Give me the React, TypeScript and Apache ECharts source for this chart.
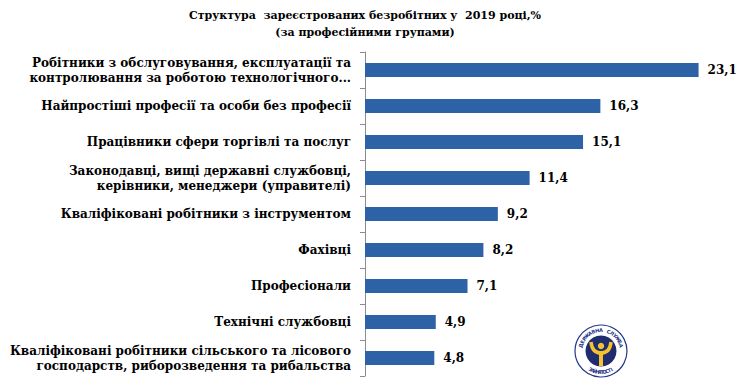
import React, { useEffect, useRef } from "react";
import * as echarts from "echarts";

const categories: string[] = [
  "Робітники з обслуговування, експлуатації та\nконтролювання за роботою технологічного...",
  "Найпростіші професії та особи без професії",
  "Працівники сфери торгівлі та послуг",
  "Законодавці, вищі державні службовці,\nкерівники, менеджери (управителі)",
  "Кваліфіковані робітники з інструментом",
  "Фахівці",
  "Професіонали",
  "Технічні службовці",
  "Кваліфіковані робітники сільського та лісового\nгосподарств, риборозведення та рибальства",
];

const values: number[] = [23.1, 16.3, 15.1, 11.4, 9.2, 8.2, 7.1, 4.9, 4.8];

const titleText = "Структура  зареєстрованих безробітних у  2019 році,%";
const subtitleText = "(за професійними групами)";
const logoTop = "ДЕРЖАВНА СЛУЖБА";
const logoBottom = "ЗАЙНЯТОСТІ";

const FONT = "DejaVu Serif";

function arcLetters(text: string, cx: number, cy: number, r: number, startDeg: number, endDeg: number, top: boolean) {
  const items: any[] = [];
  const n = text.length;
  for (let i = 0; i < n; i++) {
    const t = n === 1 ? 0.5 : i / (n - 1);
    const deg = startDeg + (endDeg - startDeg) * t;
    const rad = (deg * Math.PI) / 180;
    const x = cx + r * Math.cos(rad);
    const y = cy - r * Math.sin(rad);
    const rot = top ? rad - Math.PI / 2 : rad + Math.PI / 2;
    items.push({
      type: "text",
      x,
      y,
      rotation: rot,
      style: {
        text: text[i],
        fill: "#26358a",
        fontFamily: "DejaVu Sans",
        fontWeight: "bold",
        fontSize: 5,
        align: "center",
        verticalAlign: "middle",
      },
      z: 12,
    });
  }
  return items;
}

export default function App() {
  const ref = useRef<HTMLDivElement>(null);
  useEffect(() => {
    if (!ref.current) return;
    const chart = echarts.init(ref.current, null, { renderer: "svg" });
    const cx = 601;
    const cy = 351;
    const option: any = {
      animation: false,
      backgroundColor: "#ffffff",
      title: {
        text: titleText + "\n" + subtitleText,
        left: 360,
        top: 2,
        textAlign: "center",
        textStyle: {
          fontFamily: FONT,
          fontWeight: "bold",
          fontSize: 11,
          lineHeight: 17,
          color: "#000",
        },
      },
      grid: { left: 365, right: 12, top: 52, bottom: 3, containLabel: false },
      xAxis: {
        type: "value",
        min: 0,
        max: 25,
        show: false,
      },
      yAxis: {
        type: "category",
        inverse: true,
        data: categories,
        axisLine: { show: true, lineStyle: { color: "#8c8c8c", width: 1 } },
        axisTick: { show: true, length: 5, lineStyle: { color: "#8c8c8c" } },
        axisLabel: {
          margin: 14,
          fontFamily: FONT,
          fontWeight: "bold",
          fontSize: 12,
          lineHeight: 15,
          color: "#000",
          align: "right",
        },
      },
      series: [
        {
          type: "bar",
          data: values,
          barWidth: 14,
          itemStyle: { color: "#2E62A6" },
          label: {
            show: true,
            position: "right",
            distance: 9,
            fontFamily: FONT,
            fontWeight: "bold",
            fontSize: 12,
            color: "#000",
            formatter: (p: any) => String(p.value).replace(".", ","),
          },
        },
      ],
      graphic: [
        {
          type: "circle",
          shape: { cx, cy, r: 26 },
          style: { fill: "#ffffff", stroke: "#26358a", lineWidth: 1.2 },
          z: 10,
        },
        {
          type: "circle",
          shape: { cx, cy, r: 15.5 },
          style: { fill: "#1f2c6e" },
          z: 11,
        },
        {
          type: "bezierCurve",
          shape: { x1: cx - 10, y1: cy - 9, x2: cx, y2: cy + 2, cpx1: cx - 9, cpy1: cy + 1, cpx2: cx - 3, cpy2: cy + 2 },
          style: { stroke: "#f2c230", lineWidth: 3.5, fill: null },
          z: 12,
        },
        {
          type: "bezierCurve",
          shape: { x1: cx + 10, y1: cy - 9, x2: cx, y2: cy + 2, cpx1: cx + 9, cpy1: cy + 1, cpx2: cx + 3, cpy2: cy + 2 },
          style: { stroke: "#f2c230", lineWidth: 3.5, fill: null },
          z: 12,
        },
        {
          type: "line",
          shape: { x1: cx, y1: cy, x2: cx, y2: cy + 15 },
          style: { stroke: "#f2c230", lineWidth: 4 },
          z: 12,
        },
        {
          type: "circle",
          shape: { cx, cy: cy - 5, r: 3.2 },
          style: { fill: "#f2c230" },
          z: 12,
        },
        ...arcLetters(logoTop, cx, cy, 21, 165, 15, true),
        ...arcLetters(logoBottom, cx, cy, 21, 240, 300, false),
      ],
    };
    chart.setOption(option);
    return () => chart.dispose();
  }, []);
  return (
    <div
      ref={ref}
      style={{ position: "absolute", left: 0, top: 0, width: 738, height: 379 }}
    />
  );
}
